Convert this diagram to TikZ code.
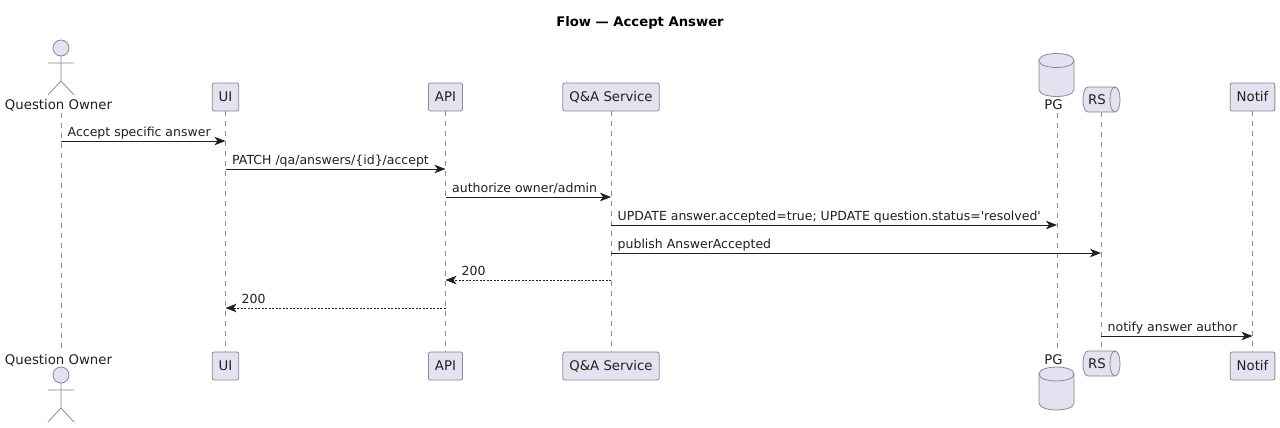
\documentclass[tikz,border=0pt]{standalone}
\usepackage{fontspec}
\usepackage{xcolor}
\usepackage{tikz}
\usetikzlibrary{arrows.meta, positioning, calc}
\newfontfamily\umlfont{DejaVu Sans}
\definecolor{partfill}{HTML}{E2E2F0}
\definecolor{partline}{HTML}{8A8A92}
\definecolor{inktext}{HTML}{202020}
\tikzset{
    label text/.style={font=\umlfont\fontsize{13.3}{15}\selectfont, text=inktext, inner sep=0pt},
    msg text/.style={font=\umlfont\fontsize{12.5}{15}\selectfont, text=inktext, inner sep=0pt, anchor=base west},
    partbox/.style={label text, draw=partline, fill=partfill, rounded corners=2pt, line width=0.8pt,
                    minimum height=28pt, inner xsep=6.5pt},
    figure line/.style={draw=partline, line width=0.8pt},
    lifeline/.style={draw=partline, line width=0.8pt, dash pattern=on 5pt off 5pt},
    msg/.style={draw=inktext, line width=0.9pt, -{Stealth[length=11pt, width=8.5pt, inset=3pt]}},
    reply/.style={msg, line width=0.7pt, dash pattern=on 2pt off 1.5pt},
    pics/stickman/.style={code={
        \draw[figure line, fill=partfill] (0,0) circle (8);
        \draw[figure line] (-13,15) -- (13,15) (0,8) -- (0,33) (-13,47) -- (0,33) -- (13,47);
    }},
    pics/dbdrum/.style={code={
        \draw[figure line, fill=partfill] (-17.5,-14.5) .. controls (-17.5,-23.8) and (17.5,-23.8) .. (17.5,-14.5)
            -- (17.5,14.5) .. controls (17.5,23.8) and (-17.5,23.8) .. (-17.5,14.5) -- cycle;
        \draw[figure line] (-17.5,-14.5) .. controls (-17.5,-5.2) and (17.5,-5.2) .. (17.5,-14.5);
    }},
    pics/queuedrum/.style={code={
        \draw[figure line, fill=partfill] (13.5,-12.5) -- (-13.5,-12.5)
            .. controls (-20.2,-12.5) and (-20.2,12.5) .. (-13.5,12.5) -- (13.5,12.5)
            .. controls (20.2,12.5) and (20.2,-12.5) .. (13.5,-12.5);
        \draw[figure line] (13.5,-12.5) .. controls (6.8,-12.5) and (6.8,12.5) .. (13.5,12.5);
    }}
}

\begin{document}
\begin{tikzpicture}[x=1pt, y=-1pt]
    \path[use as bounding box, fill=white] (0,0) rectangle (1280,428);

    \node[label text, font=\umlfont\bfseries\fontsize{13.2}{15}\selectfont, text=black] (title) at (640,22.5) {Flow — Accept Answer};

    % actor and storage figures
    \pic at (61,48) {stickman};
    \pic at (61,375) {stickman};
    \pic at (1056.5,75) {dbdrum};
    \pic at (1056.5,388.5) {dbdrum};
    \pic at (1101.5,99.5) {queuedrum};
    \pic at (1101.5,363.5) {queuedrum};

    % participants, top and bottom
    \node[label text] (qolabel) at (58.5,105) {Question Owner};
    \node[label text] (qolabelb) at (58.5,360) {Question Owner};
    \node[label text] (pglabel) at (1053.5,105) {PG};
    \node[label text] (pglabelb) at (1053.5,360) {PG};
    \node[label text] (rslabel) at (1097,100) {RS};
    \node[label text] (rslabelb) at (1097,364) {RS};
    \foreach \name/\x/\txt in {ui/225.5/UI, api/445.5/API, qa/611/{Q\&A Service}, notif/1252.5/Notif} {
        \node[partbox] (\name) at (\x,97) {\txt};
        \node[partbox] (\name b) at (\x,366) {\txt};
    }
    \coordinate (qo) at (61,113);
    \coordinate (qob) at (61,352);
    \coordinate (pg) at (1057,113);
    \coordinate (pgb) at (1057,352);
    \coordinate (rs) at (1101,112);
    \coordinate (rsb) at (1101,351);

    % lifelines
    \foreach \name in {qo, pg, rs}
        \draw[lifeline] (\name) -- (\name b);
    \foreach \name in {ui, api, qa, notif}
        \draw[lifeline] (\name.south) -- (\name b.north);

    % calls
    \foreach \n/\from/\to/\y/\txt in {
        1/qo/ui/141/{Accept specific answer},
        2/ui/api/169/{PATCH /qa/answers/\{id\}/accept},
        3/api/qa/197/{authorize owner/admin},
        4/qa/pg/225/{UPDATE answer.accepted=true; UPDATE question.status='resolved'},
        5/qa/rs/253/{publish AnswerAccepted},
        8/rs/notif/336/{notify answer author}} {
        \coordinate (from\n) at (\from |- 0,\y);
        \coordinate (to\n) at (\to |- 0,\y);
        \draw[msg] (from\n) -- (to\n);
        \node[msg text] (msg\n) at ($(from\n)+(6.5,-4.5)$) {\txt};
    }

    % replies
    \foreach \n/\from/\to/\y in {6/qa/api/280, 7/api/ui/308} {
        \coordinate (from\n) at (\from |- 0,\y);
        \coordinate (to\n) at (\to |- 0,\y);
        \draw[reply] (from\n) -- (to\n);
        \node[msg text] (msg\n) at ($(to\n)+(16,-4.5)$) {200};
    }
\end{tikzpicture}
\end{document}
